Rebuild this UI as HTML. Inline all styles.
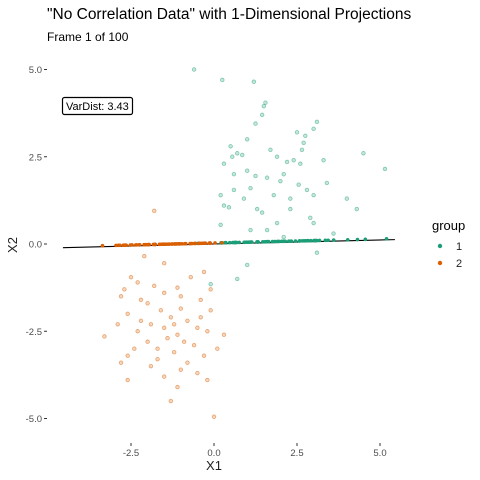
<!DOCTYPE html>
<html><head><meta charset="utf-8"><style>
body{margin:0;background:#fff;}
svg{display:block;font-family:"Liberation Sans",sans-serif;}
</style></head><body>
<svg id="chart" width="480" height="480" viewBox="0 0 480 480">
<text x="47" y="19" font-size="15.5" fill="#000">"No Correlation Data" with 1-Dimensional Projections</text>
<text x="47" y="41" font-size="12" fill="#000">Frame 1 of 100</text>
<g id="axes"></g>
<g id="pts"></g>
<g>
<rect x="62.5" y="97.5" width="70" height="17" rx="2" fill="#fff" stroke="#000" stroke-width="1.2"/>
<text x="66" y="110" font-size="11" fill="#000">VarDist: 3.43</text>
</g>
<text x="214" y="470" font-size="13" text-anchor="middle" fill="#222">X1</text>
<text transform="translate(17,245) rotate(-90)" font-size="13" text-anchor="middle" fill="#222">X2</text>
<g>
<text x="432" y="230" font-size="13" fill="#000">group</text>
<circle cx="440" cy="246" r="2.2" fill="#1b9e77"/>
<text x="456" y="250" font-size="11" fill="#222">1</text>
<circle cx="440" cy="263" r="2.2" fill="#d95f02"/>
<text x="456" y="267" font-size="11" fill="#222">2</text>
</g>
</svg>
<script>
const xTicks=[-2.5,0,2.5,5];
const xTickLabels=["-2.5","0.0","2.5","5.0"];
const yTicks=[-5,-2.5,0,2.5,5];
const yTickLabels=["-5.0","-2.5","0.0","2.5","5.0"];
const group1X=[-0.6,0.25,1.2,1.55,1.5,1.45,1.25,3.1,3.0,2.5,2.75,0.7,0.55,0.85,1.7,1.9,2.2,2.4,2.6,2.65,3.3,4.5,5.15,0.3,0.6,1.0,1.25,1.6,2.0,2.55,3.4,2.8,1.1,0.6,0.2,1.8,2.3,3.0,4.0,0.3,0.45,1.3,1.45,2.9,3.0,0.2,1.1,1.6,2.1,1.0,-0.1,0.7,3.1,0.5,1.0,2.1,2.3,4.3,3.6,1.9,0.9,2.7];
const group1Y=[5.0,4.7,4.65,4.05,3.95,3.7,3.45,3.5,3.3,3.2,3.1,2.6,2.5,2.55,2.7,2.5,2.35,2.4,2.3,2.7,2.4,2.6,2.15,2.3,2.0,2.1,1.95,1.9,1.8,1.7,1.75,1.55,1.6,1.55,1.4,1.4,1.3,1.4,1.3,1.1,1.05,1.0,0.9,0.75,0.6,0.55,0.4,0.4,0.2,-0.6,-1.15,-1.0,-0.25,2.8,3.0,2.0,1.0,1.0,0.3,0.6,1.3,2.9];
const group2X=[-1.8,-2.1,-1.5,-2.5,-1.8,-2.3,-1.1,-0.7,-1.5,-1.0,-2.2,-2.7,-0.1,-0.4,-1.6,-1.0,-2.6,-1.3,-0.8,-1.9,-0.4,-3.3,-1.5,-2.3,-0.2,-1.1,-0.9,-0.6,-2.0,-1.7,-2.6,-1.2,-0.3,0.1,-2.8,-1.9,-0.8,-2.6,-1.5,-0.2,-1.1,-1.3,0.0,-0.5,-2.0,-1.4,-2.9,-0.1,-1.7,-2.4,-0.5,-1.2,-0.3,-2.8,0.3,-1.0,-2.2];
const group2Y=[0.95,-0.35,-0.55,-0.95,-1.2,-1.1,-1.25,-0.95,-1.4,-1.5,-1.6,-1.3,-1.3,-1.6,-1.9,-1.85,-2.0,-2.1,-2.2,-2.3,-2.1,-2.65,-2.4,-2.5,-2.5,-2.6,-2.8,-2.9,-2.8,-3.0,-3.2,-3.1,-3.2,-3.0,-3.4,-3.5,-3.4,-3.9,-3.8,-3.9,-4.1,-4.5,-4.95,-3.7,-1.7,-2.7,-2.3,-1.9,-3.3,-3.0,-2.4,-2.3,-0.8,-1.5,-2.6,-3.6,-2.2];
const projSlope=0.023;
const lineRange=[-4.55,5.45];

const sx=v=>214+v*33.2, sy=v=>244-v*34.9;
const NS="http://www.w3.org/2000/svg";
const axes=document.getElementById('axes'), pts=document.getElementById('pts');
function mk(tag,attrs,parent){const e=document.createElementNS(NS,tag);for(const k in attrs)e.setAttribute(k,attrs[k]);parent.appendChild(e);return e;}
xTicks.forEach((t,i)=>{
  const tk=mk('line',{x1:sx(t),x2:sx(t),y1:443,y2:446,stroke:'#333','stroke-width':1},axes);
  
  
  const lb=mk('text',{x:sx(t),y:456,'font-size':9.5,'text-anchor':'middle',fill:'#4d4d4d'},axes);
  lb.textContent=xTickLabels[i];
  
  
});
yTicks.forEach((t,i)=>{
  const tk=mk('line',{x1:44,x2:47,y1:sy(t),y2:sy(t),stroke:'#333','stroke-width':1},axes);
  
  
  const lb=mk('text',{x:42,y:sy(t)+3.5,'font-size':9.5,'text-anchor':'end',fill:'#4d4d4d'},axes);
  lb.textContent=yTickLabels[i];
  
  
});
const pl=mk('line',{x1:sx(lineRange[0]),y1:sy(lineRange[0]*projSlope),x2:sx(lineRange[1]),y2:sy(lineRange[1]*projSlope),stroke:'#000','stroke-width':1.1},pts);


const n=Math.sqrt(1+projSlope*projSlope), dx=1/n, dy=projSlope/n;
function drawGroup(X,Y,col,name){
  X.forEach((x,i)=>{
    const c=mk('circle',{cx:sx(x),cy:sy(Y[i]),r:1.8,fill:col,'fill-opacity':0.25,stroke:col,'stroke-opacity':0.5,'stroke-width':0.8},pts);
    
    
  });
}
function drawProj(X,Y,col,name){
  X.forEach((x,i)=>{
    const t=x*dx+Y[i]*dy;
    const c=mk('circle',{cx:sx(t*dx),cy:sy(t*dy)-1,r:1.8,fill:col},pts);
    
    
  });
}
drawGroup(group1X,group1Y,'#1b9e77','group1');
drawGroup(group2X,group2Y,'#d95f02','group2');
drawProj(group1X,group1Y,'#1b9e77','group1');
drawProj(group2X,group2Y,'#d95f02','group2');
</script>
</body></html>
